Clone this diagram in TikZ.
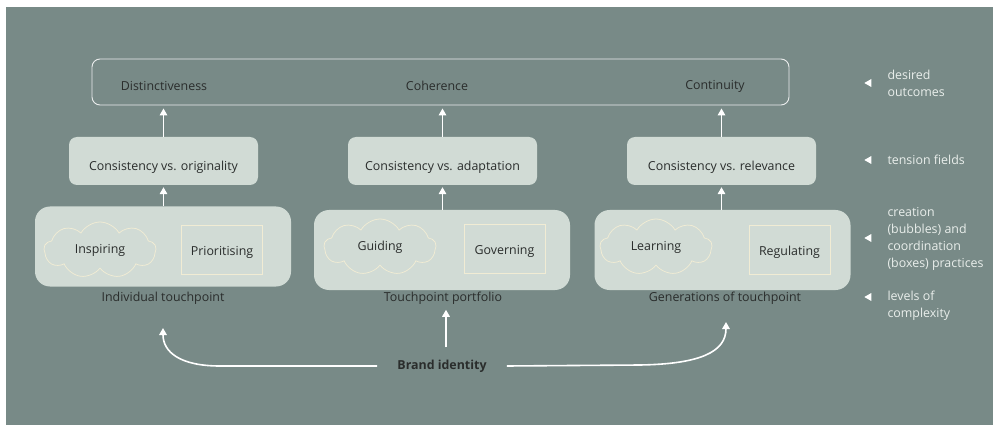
\documentclass[tikz,border=0pt]{standalone}
\usepackage{fontspec}
\setmainfont{Open Sans}
\usepackage{tikz}
\usetikzlibrary{arrows.meta, shapes.geometric, shapes.symbols}
\definecolor{bgslate}{HTML}{788A87}
\definecolor{boxsage}{HTML}{D1DBD5}
\definecolor{inkdark}{HTML}{2A2D2C}
\definecolor{creamline}{HTML}{F1ECD4}
\definecolor{legendtxt}{HTML}{E9EEEB}
\tikzset{
  outbox/.style={draw=white!85!bgslate, rounded corners=8pt, line width=0.9pt,
                 minimum width=697pt, minimum height=46pt},
  tbox/.style={fill=boxsage, rounded corners=8pt, text=inkdark,
               text height=22pt, text depth=3pt,
               minimum width=189pt, minimum height=48pt},
  pbox/.style={fill=boxsage, rounded corners=15pt,
               minimum width=256pt, minimum height=80pt},
  bubble/.style={cloud, cloud puffs=9, cloud puff arc=120, cloud ignores aspect,
                 draw=creamline, line width=0.75pt, text=inkdark,
                 minimum width=112pt, minimum height=56pt},
  cbox/.style={draw=creamline, line width=0.75pt, text=inkdark,
               text height=14pt, text depth=3pt,
               minimum width=81pt, minimum height=49pt},
  lvl/.style={text=inkdark},
  brandlbl/.style={text=inkdark, font=\fontsize{12.4}{17}\selectfont\bfseries, inner xsep=20pt},
  legtxt/.style={text=legendtxt, align=left, anchor=west},
  legmark/.style={isosceles triangle, shape border rotate=180, isosceles triangle stretches,
                  fill=white, inner sep=0pt, minimum height=7pt, minimum width=8pt},
  arr/.style={-{Triangle[width=7.5pt,length=7pt]}, white, line width=1.6pt},
}

\begin{document}
\begin{tikzpicture}[x=1pt, y=-1pt, every node/.style={font=\fontsize{12.4}{17}\selectfont}]
    \fill[white] (0,0) rectangle (994,425);
    \fill[bgslate] (6,7) rectangle (993,425);
    \useasboundingbox (0,0) rectangle (994,425);

    % desired outcomes
    \node[outbox] (outc) at (440.5,82) {};
    \node[lvl] (dist) at (164,86) {Distinctiveness};
    \node[lvl] (coh) at (437,86) {Coherence};
    \node[lvl] (cont) at (715,86) {Continuity};

    % tension fields
    \node[tbox] (tfa) at (163.5,161) {Consistency vs. originality};
    \node[tbox] (tfb) at (442.5,161) {Consistency vs. adaptation};
    \node[tbox] (tfc) at (721.5,161) {Consistency vs. relevance};

    % practices
    \node[pbox] (pra) at (163,246.5) {};
    \node[pbox] (prb) at (442,250) {};
    \node[pbox] (prc) at (722.5,250) {};
    \node[bubble] (insp) at (100,250) {Inspiring};
    \node[cbox] (prio) at (222,249.5) {Prioritising};
    \node[bubble] (guid) at (380,247) {Guiding};
    \node[cbox] (gov) at (504.5,249) {Governing};
    \node[bubble] (lear) at (656,247) {Learning};
    \node[cbox] (regu) at (789.5,249.5) {Regulating};

    % levels of complexity
    \node[lvl] (indiv) at (163,298) {Individual touchpoint};
    \node[lvl] (port) at (443,298) {Touchpoint portfolio};
    \node[lvl] (gener) at (725,298) {Generations of touchpoint};

    \node[brandlbl] (brand) at (442,366) {Brand identity};
    \coordinate (tipa) at (163,328);
    \coordinate (tipc) at (726,322);

    \draw[arr, shorten >=3pt] (tfa.north) -- (tfa.north |- outc.south);
    \draw[arr, shorten >=3pt] (tfb.north) -- (tfb.north |- outc.south);
    \draw[arr, shorten >=3pt] (tfc.north) -- (tfc.north |- outc.south);
    \draw[arr, shorten >=2pt] (tfa.south |- pra.north) -- (tfa.south);
    \draw[arr, shorten >=2pt] (tfb.south |- prb.north) -- (tfb.south);
    \draw[arr, shorten >=2pt] (tfc.south |- prc.north) -- (tfc.south);

    \draw[arr, shorten <=9pt, shorten >=2pt] ([xshift=4pt]brand.north) -- ([xshift=3pt]port.south);
    \draw[arr] (brand.west) -- (220,366) .. controls (180,366) and (163,352) .. (tipa);
    \draw[arr] (brand.east) -- (640,365) .. controls (700,364) and (726,352) .. (tipc);

    % legend
    \node[legmark] (ma) at (869,83) {};
    \node[legmark] (mb) at (869,160) {};
    \node[legmark] (mc) at (869,238) {};
    \node[legmark] (md) at (869,297) {};
    \node[legtxt] (la) at (884,83) {desired\\outcomes};
    \node[legtxt] (lb) at (884,160) {tension fields};
    \node[legtxt] (lc) at (884,239) {creation\\(bubbles) and\\coordination\\(boxes) practices};
    \node[legtxt] (ld) at (884,306) {levels of\\complexity};
\end{tikzpicture}
\end{document}
